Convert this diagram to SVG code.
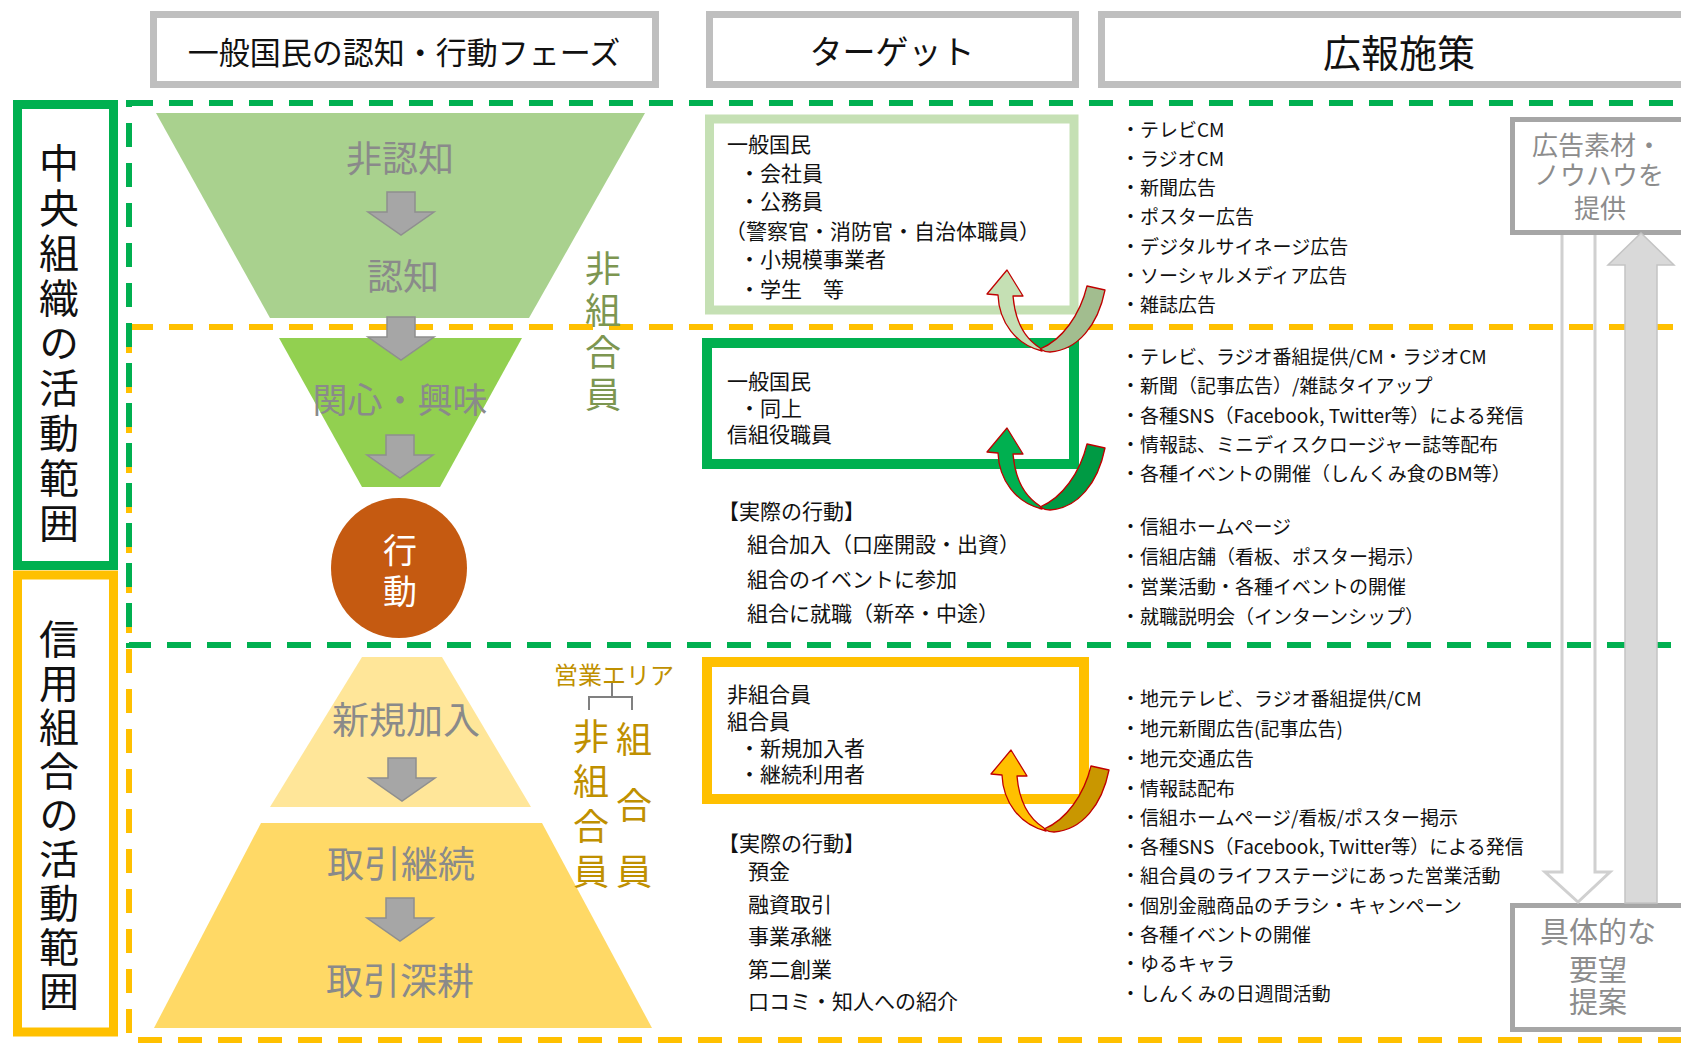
<svg xmlns="http://www.w3.org/2000/svg" width="1681" height="1043" viewBox="0 0 1681 1043">
<style>
.t{font-family:"Noto Sans CJK JP","Noto Sans",sans-serif;dominant-baseline:central}
.b{font-size:19px;fill:#111}
.bt{font-size:21px;fill:#111}
.hd{font-size:33px;fill:#111;text-anchor:middle}
.ph{font-size:36px;fill:#8a8a8a;text-anchor:middle}
.v{writing-mode:vertical-rl;text-anchor:middle}
.vt{font-size:40px;fill:#111}
.hdr{fill:#fff;stroke:#bfbfbf;stroke-width:7}
.gd{fill:none;stroke:#00b050;stroke-width:6;stroke-dasharray:24 16}
.od{fill:none;stroke:#ffc000;stroke-width:6;stroke-dasharray:24 16}
.ga{fill:#a6a6a6;stroke:#8f8f8f;stroke-width:1.5}
.ua{stroke:#c00000;stroke-width:1.3;stroke-linejoin:round}
.gb{fill:#fff;stroke:#a6a6a6;stroke-width:5}
.gt{font-size:26px;fill:#8c8c8c;text-anchor:middle}
.gold{fill:#bf9000;text-anchor:middle}
</style>
<defs>
<path id="garrow" d="M -14,0 H 14 V 20 H 33 L 0,43 L -33,20 H -14 Z"/>
<path id="uR" d="M 0,-1 C 22,-10 40,-35 47,-64 L 65,-60 C 58,-25 38,0 10,2 C 6,2 3,1 0,-1 Z"/>
<path id="uL" d="M -42,-55 C -41,-28 -24,-5 2,1 L 0,-2 C -16,-12 -25,-30 -27,-54 L -17,-54 L -33,-80 L -53,-56 Z"/>
</defs>

<rect width="1681" height="1043" fill="#fff"/>

<!-- dashed region frames -->
<g id="regions">
<rect class="od" x="129" y="327" width="1600" height="713"/>
<rect class="gd" x="129" y="103" width="1600" height="542"/>
</g>

<!-- headers -->
<g id="header-phase">
<rect class="hdr" x="153.5" y="14.5" width="502" height="70"/>
<text class="t hd" x="404" y="50" style="font-size:31px">一般国民の認知・行動フェーズ</text>
</g>
<g id="header-target">
<rect class="hdr" x="709.5" y="14.5" width="366" height="70"/>
<text class="t hd" x="892" y="50">ターゲット</text>
</g>
<g id="header-measures">
<rect class="hdr" x="1101.5" y="14.5" width="700" height="70"/>
<text class="t hd" x="1399" y="50" style="font-size:38px">広報施策</text>
</g>

<!-- left scope boxes -->
<g id="scope-central">
<rect x="17.5" y="104.5" width="96" height="461" fill="#fff" stroke="#00b050" stroke-width="9"/>
<text class="t v vt" x="59" y="345" style="letter-spacing:5px">中央組織の活動範囲</text>
</g>
<g id="scope-union">
<rect x="17.5" y="575" width="96" height="457" fill="#fff" stroke="#ffc000" stroke-width="9"/>
<text class="t v vt" x="59" y="817" style="letter-spacing:4px">信用組合の活動範囲</text>
</g>

<!-- funnel -->
<g id="funnel-awareness">
<polygon points="156,113 645,113 529,318 270,318" fill="#a9d18e"/>
<text class="t ph" x="400" y="156">非認知</text>
<text class="t ph" x="403" y="274">認知</text>
</g>
<g id="funnel-interest">
<polygon points="279,338 522,338 440,487 362,487" fill="#92d050"/>
<text class="t ph" x="400" y="397" style="font-size:35px">関心・興味</text>
</g>
<g id="action">
<ellipse cx="399" cy="568" rx="68" ry="70" fill="#c55a11"/>
<text class="t v" x="400" y="574" style="font-size:34px;fill:#fff;letter-spacing:7px">行動</text>
</g>
<g id="pyramid-new">
<polygon points="362,657 442,657 531,807 270,807" fill="#ffe699"/>
<text class="t ph" x="406" y="718" style="font-size:37px">新規加入</text>
</g>
<g id="pyramid-deal">
<polygon points="261,823 542,823 652,1028 154,1028" fill="#ffd966"/>
<text class="t ph" x="401" y="862" style="font-size:37px">取引継続</text>
<text class="t ph" x="400" y="979" style="font-size:37px">取引深耕</text>
</g>
<g id="phase-arrows">
<use href="#garrow" class="ga" transform="translate(401,192)"/>
<use href="#garrow" class="ga" transform="translate(401,317)"/>
<use href="#garrow" class="ga" transform="translate(400,435)"/>
<use href="#garrow" class="ga" transform="translate(402,758)"/>
<use href="#garrow" class="ga" transform="translate(400,898)"/>
</g>

<!-- member labels -->
<g id="label-nonmember">
<text class="t v" x="603" y="334" style="font-size:36px;fill:#7d9651;letter-spacing:6px">非組合員</text>
</g>
<g id="label-area">
<text class="t gold" x="614" y="673" style="font-size:24px">営業エリア</text>
<path d="M612,683 V697 M589,710 V697 H632 V710" fill="none" stroke="#808080" stroke-width="2"/>
<text class="t v gold" x="591" y="808" style="font-size:36px;letter-spacing:9px">非組合員</text>
<text class="t v gold" x="634" y="820" style="font-size:36px;letter-spacing:30px">組合員</text>
</g>

<!-- targets -->
<g id="target-general">
<rect x="709.5" y="119" width="364.5" height="191" fill="#fff" stroke="#c5e0b4" stroke-width="9"/>
<text class="t bt"><tspan x="727" y="143">一般国民</tspan><tspan x="739" y="172">・会社員</tspan><tspan x="739" y="200">・公務員</tspan><tspan x="725" y="230">（警察官・消防官・自治体職員）</tspan><tspan x="739" y="258">・小規模事業者</tspan><tspan x="739" y="288">・学生　等</tspan></text>
</g>
<g id="target-interest">
<rect x="707" y="343" width="367" height="121" fill="#fff" stroke="#00b050" stroke-width="10"/>
<text class="t bt"><tspan x="727" y="380">一般国民</tspan><tspan x="739" y="407">・同上</tspan><tspan x="727" y="433">信組役職員</tspan></text>
</g>
<g id="action-central">
<text class="t bt"><tspan x="718" y="510">【実際の行動】</tspan><tspan x="747" y="543">組合加入（口座開設・出資）</tspan><tspan x="747" y="578">組合のイベントに参加</tspan><tspan x="747" y="612">組合に就職（新卒・中途）</tspan></text>
</g>
<g id="target-union">
<rect x="707" y="662" width="377" height="137" fill="#fff" stroke="#ffc000" stroke-width="10"/>
<text class="t bt"><tspan x="727" y="693">非組合員</tspan><tspan x="727" y="720">組合員</tspan><tspan x="739" y="747">・新規加入者</tspan><tspan x="739" y="773">・継続利用者</tspan></text>
</g>
<g id="action-union">
<text class="t bt"><tspan x="718" y="842">【実際の行動】</tspan><tspan x="748" y="870">預金</tspan><tspan x="748" y="903">融資取引</tspan><tspan x="748" y="935">事業承継</tspan><tspan x="748" y="968">第二創業</tspan><tspan x="748" y="1000">口コミ・知人への紹介</tspan></text>
</g>

<!-- measures -->
<g id="measures-awareness">
<text class="t b"><tspan x="1121" y="128">・テレビCM</tspan><tspan x="1121" y="157">・ラジオCM</tspan><tspan x="1121" y="186">・新聞広告</tspan><tspan x="1121" y="215">・ポスター広告</tspan><tspan x="1121" y="245">・デジタルサイネージ広告</tspan><tspan x="1121" y="274">・ソーシャルメディア広告</tspan><tspan x="1121" y="303">・雑誌広告</tspan></text>
</g>
<g id="measures-interest">
<text class="t b"><tspan x="1121" y="355">・テレビ、ラジオ番組提供/CM・ラジオCM</tspan><tspan x="1121" y="384">・新聞（記事広告）/雑誌タイアップ</tspan><tspan x="1121" y="414">・各種SNS（Facebook, Twitter等）による発信</tspan><tspan x="1121" y="443">・情報誌、ミニディスクロージャー誌等配布</tspan><tspan x="1121" y="472">・各種イベントの開催（しんくみ食のBM等）</tspan></text>
<text class="t b"><tspan x="1121" y="525">・信組ホームページ</tspan><tspan x="1121" y="555">・信組店舗（看板、ポスター掲示）</tspan><tspan x="1121" y="585">・営業活動・各種イベントの開催</tspan><tspan x="1121" y="615">・就職説明会（インターンシップ）</tspan></text>
</g>
<g id="measures-union">
<text class="t b"><tspan x="1121" y="697">・地元テレビ、ラジオ番組提供/CM</tspan><tspan x="1121" y="727">・地元新聞広告(記事広告)</tspan><tspan x="1121" y="757">・地元交通広告</tspan><tspan x="1121" y="787">・情報誌配布</tspan><tspan x="1121" y="816">・信組ホームページ/看板/ポスター掲示</tspan><tspan x="1121" y="845">・各種SNS（Facebook, Twitter等）による発信</tspan><tspan x="1121" y="874">・組合員のライフステージにあった営業活動</tspan><tspan x="1121" y="904">・個別金融商品のチラシ・キャンペーン</tspan><tspan x="1121" y="933">・各種イベントの開催</tspan><tspan x="1121" y="962">・ゆるキャラ</tspan><tspan x="1121" y="992">・しんくみの日週間活動</tspan></text>
</g>

<!-- right side boxes -->
<g id="box-provide">
<rect class="gb" x="1512.5" y="119.5" width="200" height="113"/>
<text class="t gt"><tspan x="1597" y="143">広告素材・</tspan><tspan x="1599" y="173">ノウハウを</tspan><tspan x="1600" y="206">提供</tspan></text>
</g>
<g id="box-request">
<rect class="gb" x="1512.5" y="905.5" width="200" height="124"/>
<text class="t gt" style="font-size:29px"><tspan x="1598" y="930">具体的な</tspan><tspan x="1598" y="968">要望</tspan><tspan x="1598" y="1000">提案</tspan></text>
</g>

<!-- connectors -->
<g id="connectors">
<path d="M1562,235 V872 H1545 L1578,902 L1610,872 H1595 V235" fill="none" stroke="#d0d0d0" stroke-width="3" stroke-linejoin="miter"/>
<path d="M1625,903 V265 H1608 L1641,233 L1674,265 H1657 V903 Z" fill="#d9d9d9" stroke="#c4c4c4" stroke-width="1.5"/>
<g transform="translate(1040,350)">
<use href="#uR" class="ua" fill="#a2bd8f"/>
<use href="#uL" class="ua" fill="#c5e0b4"/>
</g>
<g transform="translate(1040,508)">
<use href="#uR" class="ua" fill="#009a44"/>
<use href="#uL" class="ua" fill="#00b050"/>
</g>
<g transform="translate(1044,830)">
<use href="#uR" class="ua" fill="#c99700"/>
<use href="#uL" class="ua" fill="#ffc000"/>
</g>
</g>
</svg>
